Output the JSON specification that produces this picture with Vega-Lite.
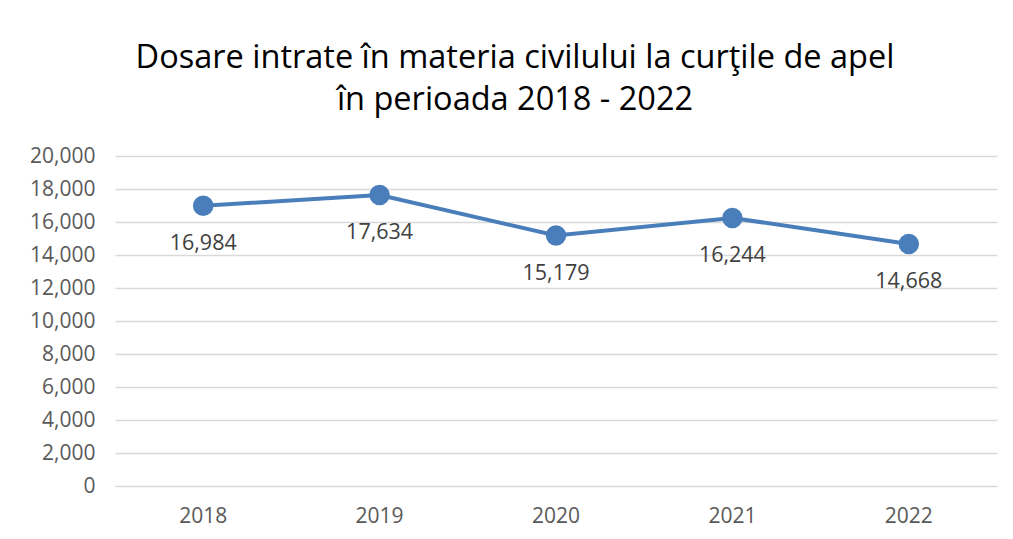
{
  "$schema": "https://vega.github.io/schema/vega-lite/v6.json",
  "width": 882,
  "height": 330,
  "autosize": "none",
  "padding": {"left": 115, "top": 156, "right": 16, "bottom": 53},
  "background": "white",
  "title": {
    "text": ["Dosare intrate în materia civilului la curţile de apel", "în perioada 2018 - 2022"],
    "font": "Open Sans",
    "fontSize": 32.5,
    "fontWeight": "normal",
    "color": "#000000",
    "anchor": "middle",
    "dx": -41,
    "offset": 29,
    "lineHeight": 42
  },
  "data": {
    "values": [
      {"year": "2018", "value": 16984},
      {"year": "2019", "value": 17634},
      {"year": "2020", "value": 15179},
      {"year": "2021", "value": 16244},
      {"year": "2022", "value": 14668}
    ]
  },
  "encoding": {
    "x": {
      "field": "year", "type": "ordinal",
      "scale": {"type": "band", "paddingInner": 0, "paddingOuter": 0},
      "axis": {"title": null, "labelAngle": 0, "ticks": false, "domainColor": "#d9d9d9", "labelPadding": 19, "labelFont": "Open Sans", "labelFontSize": 21, "labelColor": "#595959"}
    },
    "y": {
      "field": "value", "type": "quantitative",
      "scale": {"domain": [0, 20000]},
      "axis": {"title": null, "tickCount": 10, "format": ",.0f", "ticks": false, "domain": false, "gridColor": "#d9d9d9", "gridWidth": 1.3, "labelPadding": 20, "labelFont": "Open Sans", "labelFontSize": 21, "labelColor": "#595959"}
    }
  },
  "layer": [
    {"mark": {"type": "line", "color": "#4a7ebb", "strokeWidth": 4}},
    {"mark": {"type": "point", "filled": true, "shape": "circle", "size": 420, "color": "#4a7ebb", "opacity": 1}},
    {"mark": {"type": "text", "dy": 38, "font": "Open Sans", "fontSize": 21.5, "color": "#404040"},
     "encoding": {"text": {"field": "value", "type": "quantitative", "format": ",.0f"}}}
  ],
  "config": {"view": {"stroke": null}}
}
